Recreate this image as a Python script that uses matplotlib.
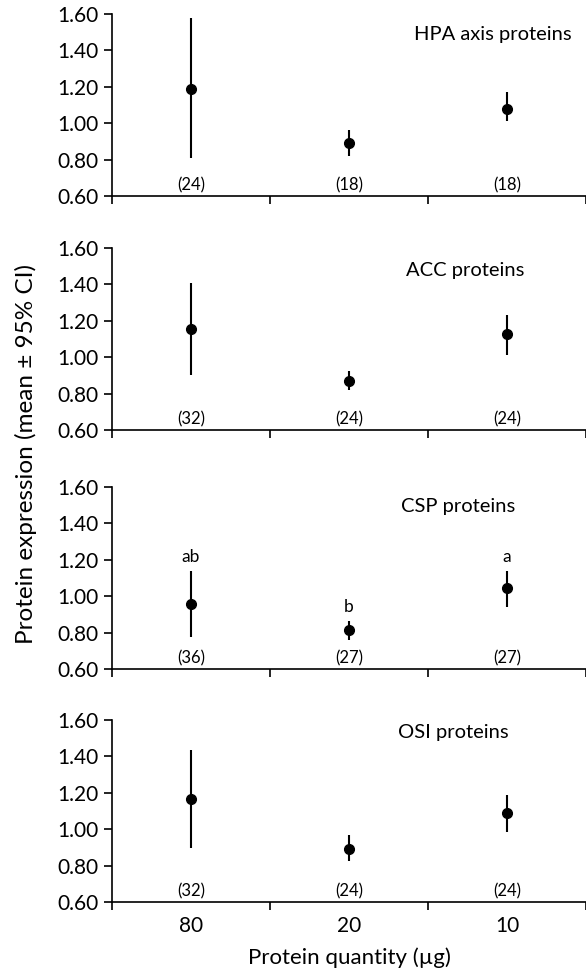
import numpy as np
import matplotlib
matplotlib.use('Agg')
import matplotlib.pyplot as plt

plt.rcParams['font.family'] = ['Lato', 'DejaVu Sans']

# data
quantities = ['80', '20', '10']
panel_names = ['HPA axis proteins', 'ACC proteins', 'CSP proteins', 'OSI proteins']

hpa_mean = [1.19, 0.89, 1.08]
hpa_low = [0.81, 0.82, 1.01]
hpa_high = [1.58, 0.96, 1.17]
hpa_n = [24, 18, 18]

acc_mean = [1.155, 0.87, 1.125]
acc_low = [0.90, 0.82, 1.01]
acc_high = [1.41, 0.925, 1.23]
acc_n = [32, 24, 24]

csp_mean = [0.955, 0.815, 1.047]
csp_low = [0.775, 0.76, 0.94]
csp_high = [1.14, 0.865, 1.14]
csp_n = [36, 27, 27]
csp_letters = ['ab', 'b', 'a']

osi_mean = [1.165, 0.893, 1.087]
osi_low = [0.895, 0.825, 0.985]
osi_high = [1.435, 0.97, 1.19]
osi_n = [32, 24, 24]

yticks_vals = [0.60, 0.80, 1.00, 1.20, 1.40, 1.60]

panels = [
    (hpa_mean, hpa_low, hpa_high, hpa_n, None),
    (acc_mean, acc_low, acc_high, acc_n, None),
    (csp_mean, csp_low, csp_high, csp_n, csp_letters),
    (osi_mean, osi_low, osi_high, osi_n, None),
]

fig = plt.figure(figsize=(5.86, 9.73), dpi=100)

bottoms = [0.7986, 0.5581, 0.3124, 0.0730]
title_x = [1.91, 1.86, 1.83, 1.81]
title_y = [1.485, 1.475, 1.496, 1.529]
x = np.arange(3) + 0.5

for i, (mean, low, high, n, letters) in enumerate(panels):
    ax = fig.add_axes([0.191, bottoms[i], 0.809, 0.187])
    mean = np.array(mean)
    err = [mean - np.array(low), np.array(high) - mean]
    ax.errorbar(x, mean, yerr=err, fmt='o', color='black', ms=7,
                elinewidth=1.5, capsize=0, zorder=3)
    for xi, ni in zip(x, n):
        ax.text(xi, 0.657, '(%d)' % ni, ha='center', va='center', fontsize=12)
    if letters is not None:
        for xi, hi, lt in zip(x, high, letters):
            ax.text(xi, hi + 0.075, lt, ha='center', va='center', fontsize=12.5)
    ax.text(title_x[i], title_y[i], panel_names[i], ha='left', va='center',
            fontsize=14.5)
    ax.set_xlim(0, 3)
    ax.set_ylim(0.60, 1.60)
    ax.set_yticks(yticks_vals)
    ax.set_yticklabels(['%.2f' % v for v in yticks_vals])
    ax.set_xticks([0, 1, 2, 3])
    ax.set_xticklabels([])
    ax.set_xticks(x, minor=True)
    ax.tick_params(axis='x', which='minor', length=0)
    ax.tick_params(axis='both', which='major', direction='out', length=6,
                   width=1.2, labelsize=15)
    if i == 3:
        ax.set_xticklabels(quantities, minor=True)
        ax.tick_params(axis='x', which='minor', pad=10, labelsize=15)
        ax.set_xlabel('Protein quantity (µg)', fontsize=16, labelpad=8)
    for s in ['top', 'right']:
        ax.spines[s].set_visible(False)
    for s in ['left', 'bottom']:
        ax.spines[s].set_linewidth(1.2)
    ax.patch.set_alpha(0)

fig.text(0.044, 0.533, 'Protein expression (mean \u00b1 95% CI)', rotation=90,
         ha='center', va='center', fontsize=17.5)

fig.savefig('out.png', dpi=100)
